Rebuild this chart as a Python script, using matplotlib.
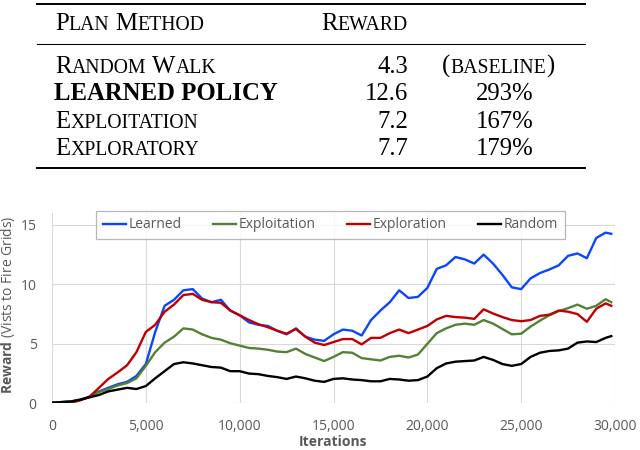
import matplotlib
matplotlib.use('Agg')
import matplotlib.pyplot as plt
from matplotlib.ticker import FixedLocator

# ---- table data ----
methods = ['Random Walk', 'LEARNED POLICY', 'Exploitation', 'Exploratory']
rewards = ['4.3', '12.6', '7.2', '7.7']
gains = ['(baseline)', '293%', '167%', '179%']
bold_rows = [False, True, False, False]

# ---- chart data (reward read every 500 iterations) ----
iterations = list(range(0, 30000, 500)) + [29800]

learned = [0.05, 0.1, 0.15, 0.3, 0.55, 1.0, 1.3, 1.6, 1.8, 2.3,
           3.3, 6.0, 8.2, 8.7, 9.5, 9.6, 8.8, 8.5, 8.7, 7.8,
           7.4, 6.8, 6.6, 6.5, 6.1, 5.8, 6.3, 5.6, 5.35, 5.25,
           5.8, 6.2, 6.1, 5.7, 7.0, 7.8, 8.5, 9.5, 8.85, 8.95,
           9.7, 11.3, 11.6, 12.3, 12.1, 11.75, 12.5, 11.75, 10.8, 9.75,
           9.6, 10.5, 10.95, 11.25, 11.6, 12.4, 12.6, 12.2, 13.9, 14.35,
           14.25]
exploitation = [0.05, 0.1, 0.15, 0.3, 0.55, 0.95, 1.2, 1.5, 1.7, 2.1,
                3.15, 4.3, 5.1, 5.6, 6.3, 6.2, 5.8, 5.5, 5.35, 5.05,
                4.85, 4.65, 4.6, 4.5, 4.35, 4.3, 4.6, 4.15, 3.85, 3.55,
                3.9, 4.3, 4.25, 3.8, 3.7, 3.6, 3.9, 4.0, 3.85, 4.1,
                5.0, 5.9, 6.3, 6.6, 6.7, 6.6, 7.0, 6.7, 6.25, 5.8,
                5.85, 6.45, 6.95, 7.4, 7.75, 8.0, 8.3, 7.95, 8.2, 8.75,
                8.5]
exploration = [0.0, 0.0, 0.05, 0.25, 0.55, 1.3, 2.05, 2.6, 3.2, 4.3,
               6.0, 6.6, 7.7, 8.3, 9.1, 9.2, 8.7, 8.5, 8.45, 7.8,
               7.4, 7.0, 6.65, 6.4, 6.1, 5.85, 6.25, 5.6, 5.1, 4.9,
               5.15, 5.4, 5.4, 4.95, 5.5, 5.5, 5.9, 6.2, 5.9, 6.2,
               6.5, 7.05, 7.35, 7.25, 7.2, 7.1, 7.9, 7.55, 7.25, 7.0,
               6.9, 7.0, 7.35, 7.45, 7.8, 7.7, 7.5, 6.85, 7.95, 8.4,
               8.2]
random_walk = [0.05, 0.1, 0.15, 0.3, 0.5, 0.7, 1.0, 1.15, 1.3, 1.2,
               1.45, 2.1, 2.7, 3.3, 3.45, 3.35, 3.2, 3.05, 3.0, 2.7,
               2.7, 2.5, 2.45, 2.3, 2.2, 2.05, 2.25, 2.1, 1.9, 1.8,
               2.05, 2.1, 2.0, 1.95, 1.85, 1.85, 2.05, 2.0, 1.9, 1.95,
               2.25, 2.95, 3.35, 3.5, 3.55, 3.6, 3.9, 3.65, 3.3, 3.15,
               3.3, 3.9, 4.25, 4.4, 4.45, 4.6, 5.1, 5.2, 5.15, 5.5,
               5.65]

series_names = ['Learned', 'Exploitation', 'Exploration', 'Random']
series_colors = ['#0a46ff', '#548235', '#c00000', '#000000']

x_ticks = [0, 5000, 10000, 15000, 20000, 25000, 30000]
x_tick_labels = ['0', '5,000', '10,000', '15,000', '20,000', '25,000', '30,000']
y_ticks = [0, 5, 10, 15]

GRAY = '#595959'
plt.rcParams['font.family'] = ['Open Sans', 'DejaVu Sans']
plt.rcParams['mathtext.fontset'] = 'custom'
plt.rcParams['mathtext.rm'] = 'Open Sans'
plt.rcParams['mathtext.bf'] = 'Open Sans:bold'

fig = plt.figure(figsize=(6.4, 4.5), dpi=100)
renderer = fig.canvas.get_renderer()

# ---- table drawn in pixel coordinates ----
tab = fig.add_axes([0, 1 - 180 / 450, 1, 180 / 450])
tab.set_xlim(0, 640)
tab.set_ylim(180, 0)
tab.axis('off')

SERIF = 'Liberation Serif'
BIG = 17.8
SMALL = BIG * 0.8


def small_caps(x, y, text, ha='left'):
    """Draw text in small caps: capitals full size, lower case as small capitals."""
    pieces = []
    gap = 0.25 * BIG * 100 / 72
    for w_i, word in enumerate(text.split(' ')):
        if w_i > 0:
            pieces.append((None, gap))
        run, run_small = '', None
        runs = []
        for ch in word:
            is_small = ch.islower()
            if run and is_small != run_small:
                runs.append((run, run_small))
                run = ''
            run += ch
            run_small = is_small
        if run:
            runs.append((run, run_small))
        for chunk, is_small in runs:
            t = tab.text(0, y, chunk.upper(), family=SERIF,
                         fontsize=SMALL if is_small else BIG,
                         va='baseline', ha='left', color='black')
            pieces.append((t, t.get_window_extent(renderer).width))
    total = sum(w for _, w in pieces)
    if ha == 'right':
        pos = x - total
    elif ha == 'center':
        pos = x - total / 2
    else:
        pos = x
    for t, w in pieces:
        if t is not None:
            t.set_x(pos)
        pos += w


tab.plot([37, 585], [3.5, 3.5], color='black', lw=1.4)
tab.plot([37, 585], [44, 44], color='black', lw=0.75)
tab.plot([37, 585], [168, 168], color='black', lw=1.4)

small_caps(55, 30, 'Plan Method')
small_caps(408, 30, 'Reward', ha='right')

row_y = [73, 100, 127.5, 155]
for name, rew, gain, bold, y in zip(methods, rewards, gains, bold_rows, row_y):
    if bold:
        tab.text(54, y, name, family=SERIF, fontsize=BIG, fontweight='bold',
                 va='baseline')
    else:
        small_caps(55, y, name)
    tab.text(408, y, rew, family=SERIF, fontsize=BIG, va='baseline', ha='right')
    if gain.startswith('('):
        small_caps(498, y, gain, ha='center')
    else:
        tab.text(505, y, gain, family=SERIF, fontsize=BIG, va='baseline',
                 ha='center')

# ---- line chart ----
ax = fig.add_axes([52 / 640, (450 - 403.3) / 450, 563 / 640, (403.3 - 213) / 450])
for values, name, color in zip([learned, exploitation, exploration, random_walk],
                               series_names, series_colors):
    ax.plot(iterations, values, color=color, lw=1.7, label=name,
            solid_joinstyle='round')

ax.set_xlim(0, 30000)
ax.set_ylim(0, 16)
ax.xaxis.set_major_locator(FixedLocator(x_ticks))
ax.set_xticklabels(x_tick_labels)
ax.yaxis.set_major_locator(FixedLocator(y_ticks))
ax.grid(True, color='#d9d9d9', lw=0.8)
ax.set_axisbelow(True)
for s in ax.spines.values():
    s.set_visible(False)
ax.tick_params(length=0, labelsize=10, labelcolor=GRAY)
ax.tick_params(axis='x', pad=11)
ax.tick_params(axis='y', pad=11)

ax.set_xlabel('Iterations', fontsize=10, fontweight='bold', color=GRAY, labelpad=1)
fig.text(8 / 640, 1 - 305 / 450, r'$\mathbf{Reward}$ (Vists to Fire Grids)',
         rotation=90, fontsize=10, color=GRAY, ha='center', va='center')

leg = ax.legend(loc='center', bbox_to_anchor=(330.5 / 640, 1 - 225 / 450),
                bbox_transform=fig.transFigure, ncol=4, frameon=True,
                fancybox=False, edgecolor='#a6a6a6', fontsize=10,
                handlelength=1.7, handletextpad=0.2, columnspacing=2.2,
                borderpad=0.5)
leg.get_frame().set_linewidth(0.9)
for txt in leg.get_texts():
    txt.set_color(GRAY)

fig.savefig('out.png', dpi=100)
